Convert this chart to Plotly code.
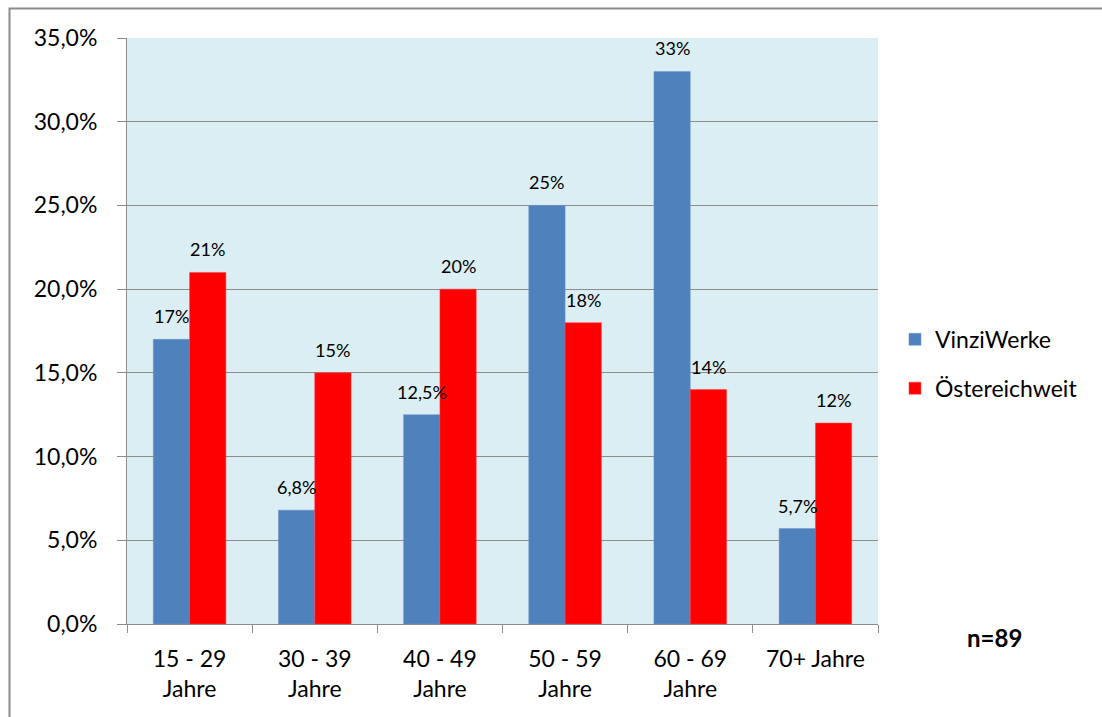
import plotly.graph_objects as go

categories = ["15 - 29<br>Jahre", "30 - 39<br>Jahre", "40 - 49<br>Jahre", "50 - 59<br>Jahre", "60 - 69<br>Jahre", "70+ Jahre"]
vinzi = [0.17, 0.068, 0.125, 0.25, 0.33, 0.057]
vinzi_labels = ["17%", "6,8%", "12,5%", "25%", "33%", "5,7%"]
oesterreich = [0.21, 0.15, 0.20, 0.18, 0.14, 0.12]
oesterreich_labels = ["21%", "15%", "20%", "18%", "14%", "12%"]
y_ticks = [0, 0.05, 0.10, 0.15, 0.20, 0.25, 0.30, 0.35]

FONT = "Lato, 'Open Sans', sans-serif"
BARGAP = 0.42
HALF = (1 - BARGAP) / 4  # offset of each bar center inside group

fig = go.Figure()
fig.add_trace(go.Bar(x=categories, y=vinzi, name="VinziWerke", marker_color="#4F81BD",
                     marker_line=dict(color="#6A94C8", width=0.5), legendgroup="a"))
fig.add_trace(go.Bar(x=categories, y=oesterreich, name="Östereichweit", marker_color="#FF0000",
                     marker_line=dict(color="#FF4040", width=0.5), legendgroup="b"))

for i in range(len(categories)):
    fig.add_annotation(x=i - HALF, y=vinzi[i], text=vinzi_labels[i], showarrow=False,
                       yshift=23, yanchor="middle", xanchor="center",
                       font=dict(size=18, family=FONT, color="#000"))
    fig.add_annotation(x=i + HALF, y=oesterreich[i], text=oesterreich_labels[i], showarrow=False,
                       yshift=23, yanchor="middle", xanchor="center",
                       font=dict(size=18, family=FONT, color="#000"))

fig.update_layout(
    width=1102, height=717,
    margin=dict(l=127, r=224, t=38, b=93),
    paper_bgcolor="white", plot_bgcolor="#DBEEF4",
    barmode="group", bargap=BARGAP, bargroupgap=0,
    separators=",.",
    font=dict(family=FONT, size=23, color="#000"),
    legend=dict(x=1.0226, y=0.444, xanchor="left", yanchor="middle",
                font=dict(size=23), traceorder="grouped", tracegroupgap=16),
    showlegend=True,
)
fig.update_yaxes(range=[0, 0.35], tickvals=y_ticks, tickformat=".1%",
                 showgrid=True, gridcolor="#8C8C8C", gridwidth=1,
                 showline=True, linecolor="#8C8C8C", ticks="outside", ticklen=9,
                 tickcolor="#8C8C8C", zeroline=False, ticklabelstandoff=15)
fig.update_xaxes(showline=True, linecolor="#8C8C8C", ticks="outside", ticklen=8,
                 tickcolor="#8C8C8C", tickson="boundaries", range=[-0.5, 5.5],
                 ticklabelstandoff=14)

fig.add_annotation(text="<b>n=89</b>", xref="paper", yref="paper",
                   x=(994 - 127) / 751, y=(624 - 637) / 586, showarrow=False,
                   font=dict(size=24, family=FONT), xanchor="center", yanchor="middle")

fig.add_shape(type="rect", xref="paper", yref="paper",
              x0=(9.5 - 127) / 751, x1=(1120 - 127) / 751,
              y0=(624 - 740) / 586, y1=(624 - 8.5) / 586,
              line=dict(color="#8C8C8C", width=2), fillcolor="rgba(0,0,0,0)", layer="below")

fig.write_html("out.html")
